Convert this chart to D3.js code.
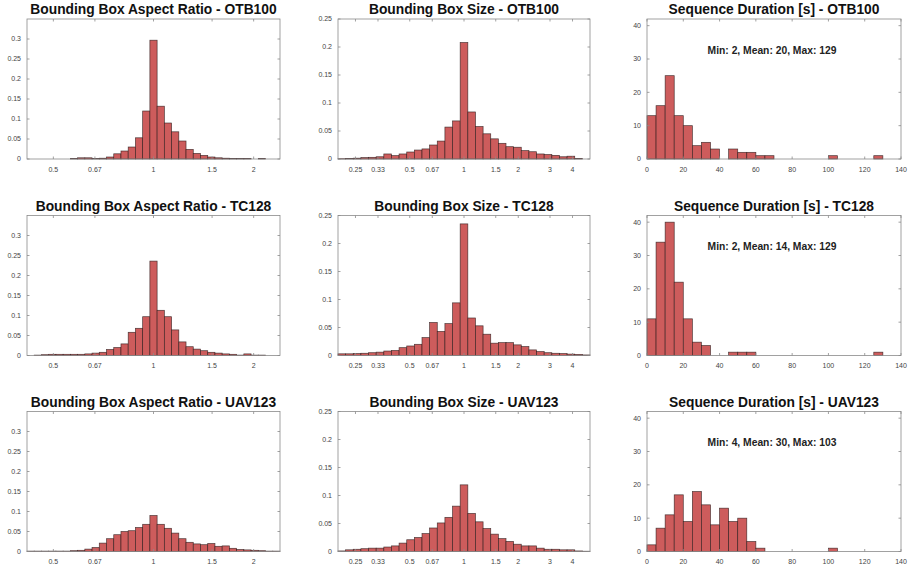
<!DOCTYPE html>
<html>
<head>
<meta charset="utf-8">
<script src="https://cdn.jsdelivr.net/npm/d3@7"></script>
<style>
  body { margin: 0; background: #fff; }
  svg { display: block; }
</style>
</head>
<body>
<div id="chart"></div>
<script>
// Datasets (one row of panels each)
var datasets = ['OTB100', 'TC128', 'UAV123']

// Bounding box aspect ratio, relative frequency, 35 log-spaced bins
var aspectOTB100 = [0, 0, 0, 0, 0, 0, 0.001, 0.003, 0.003, 0.001, 0.002, 0.005, 0.013, 0.02, 0.03, 0.053, 0.12,
  0.297, 0.132, 0.09, 0.068, 0.045, 0.024, 0.014, 0.009, 0.005, 0.003, 0.002, 0.001, 0.001, 0.001, 0, 0.001, 0, 0]
var aspectTC128 = [0, 0.001, 0.002, 0.003, 0.003, 0.003, 0.003, 0.003, 0.004, 0.006, 0.008, 0.015, 0.02, 0.029, 0.058, 0.068, 0.097,
  0.236, 0.113, 0.097, 0.064, 0.034, 0.022, 0.016, 0.012, 0.008, 0.006, 0.004, 0.003, 0.001, 0.004, 0.001, 0.001, 0, 0]
var aspectUAV123 = [0.001, 0.001, 0.001, 0.001, 0.001, 0.001, 0.002, 0.003, 0.006, 0.01, 0.021, 0.032, 0.042, 0.05, 0.052, 0.06, 0.068,
  0.09, 0.068, 0.058, 0.046, 0.032, 0.023, 0.019, 0.017, 0.02, 0.013, 0.014, 0.008, 0.005, 0.004, 0.003, 0.002, 0.001, 0.001]

// Bounding box size, relative frequency, 33 log-spaced bins
var sizeOTB100 = [0.0005, 0.001, 0.0015, 0.0025, 0.003, 0.004, 0.009, 0.006, 0.009, 0.0125, 0.016, 0.018, 0.025, 0.032, 0.057, 0.068,
  0.208, 0.084, 0.058, 0.045, 0.036, 0.028, 0.022, 0.021, 0.015, 0.013, 0.009, 0.008, 0.0065, 0.004, 0.005, 0.001, 0]
var sizeTC128 = [0.003, 0.003, 0.0035, 0.004, 0.005, 0.006, 0.008, 0.009, 0.014, 0.017, 0.02, 0.032, 0.059, 0.043, 0.057, 0.094,
  0.235, 0.067, 0.053, 0.038, 0.022, 0.023, 0.023, 0.019, 0.016, 0.01, 0.007, 0.005, 0.004, 0.0035, 0.0025, 0.002, 0.001]
var sizeUAV123 = [0.001, 0.003, 0.004, 0.005, 0.006, 0.006, 0.008, 0.01, 0.015, 0.021, 0.025, 0.032, 0.042, 0.051, 0.061, 0.081,
  0.119, 0.068, 0.053, 0.041, 0.031, 0.023, 0.018, 0.013, 0.01, 0.01, 0.006, 0.004, 0.004, 0.003, 0.003, 0.001, 0.0005]

// Sequence duration, counts in 5 s bins starting at 0
var durationOTB100 = [13, 16, 25, 13, 10, 4, 5, 3, 0, 3, 2, 2, 1, 1, 0, 0, 0, 0, 0, 0, 1, 0, 0, 0, 0, 1]
var durationTC128 = [11, 34, 40, 22, 11, 4, 3, 0, 0, 1, 1, 1, 0, 0, 0, 0, 0, 0, 0, 0, 0, 0, 0, 0, 0, 1]
var durationUAV123 = [2, 7, 11, 17, 9, 18, 14, 8, 13, 9, 10, 3, 1, 0, 0, 0, 0, 0, 0, 0, 1]
var durationStats = ['Min: 2, Mean: 20, Max: 129', 'Min: 2, Mean: 14, Max: 129', 'Min: 4, Mean: 30, Max: 103']

// Axis ranges and ticks
var aspectDomain = [1 / 2.4, 2.4]
var aspectTicks = [0.5, 2 / 3, 1, 1.5, 2]
var aspectTickLabels = ['0.5', '0.67', '1', '1.5', '2']
var aspectYTicks = [0, 0.05, 0.1, 0.15, 0.2, 0.25, 0.3]

var sizeDomain = [0.2, 5]
var sizeTicks = [0.25, 1 / 3, 0.5, 2 / 3, 1, 1.5, 2, 3, 4]
var sizeTickLabels = ['0.25', '0.33', '0.5', '0.67', '1', '1.5', '2', '3', '4']
var sizeYTicks = [0, 0.05, 0.1, 0.15, 0.2, 0.25]

var durationDomain = [0, 140]
var durationBinWidth = 5
var durationTicks = [0, 20, 40, 60, 80, 100, 120, 140]
var durationYTicks = [0, 10, 20, 30, 40]

var aspectData = [aspectOTB100, aspectTC128, aspectUAV123]
var sizeData = [sizeOTB100, sizeTC128, sizeUAV123]
var durationData = [durationOTB100, durationTC128, durationUAV123]

// Dimensions
var width = 914
var height = 570
var colLeft = [27, 338, 647]
var colWidth = [253, 252, 254]
var rowTop = [19, 215.5, 411.5]
var plotH = 140
var tickLen = 2.5

var axisColor = '#8a8a8a'
var labelColor = '#444'
var barFill = '#cd5c5c'
var barStroke = '#2a1a1a'

var svg = d3.select('#chart').append('svg')
  .attr('width', width)
  .attr('height', height)
  .style('font-family', 'Arial, "Liberation Sans", sans-serif')

// log-spaced bins covering the whole domain
function logBins(values, domain) {
  var lo = Math.log(domain[0])
  var hi = Math.log(domain[1])
  var n = values.length
  return values.map(function (v, i) {
    return { x0: Math.exp(lo + (hi - lo) * i / n), x1: Math.exp(lo + (hi - lo) * (i + 1) / n), v: v }
  })
}

function linBins(values, step) {
  return values.map(function (v, i) {
    return { x0: i * step, x1: (i + 1) * step, v: v }
  })
}

function panel(col, row, o) {
  var left = colLeft[col]
  var top = rowTop[row]
  var w = colWidth[col]

  var x = o.x.range([0, w])
  var y = d3.scaleLinear().domain(o.yDomain).range([plotH, 0])

  var g = svg.append('g')
    .attr('transform', 'translate(' + left + ',' + top + ')')

  // bars
  g.append('g').selectAll('rect')
    .data(o.bins.filter(function (d) { return d.v > 0 }))
    .enter().append('rect')
    .attr('x', function (d) { return x(d.x0) })
    .attr('width', function (d) { return x(d.x1) - x(d.x0) })
    .attr('y', function (d) { return y(d.v) })
    .attr('height', function (d) { return plotH - y(d.v) })
    .attr('fill', barFill)
    .attr('stroke', barStroke)
    .attr('stroke-opacity', 0.8)
    .attr('stroke-width', 0.7)

  // box
  g.append('rect')
    .attr('width', w)
    .attr('height', plotH)
    .attr('fill', 'none')
    .attr('stroke', axisColor)
    .attr('stroke-width', 0.8)

  // inward ticks, mirrored on the top and right edges
  o.xTicks.forEach(function (t) {
    var tx = x(t)
    g.append('line').attr('x1', tx).attr('x2', tx).attr('y1', plotH).attr('y2', plotH - tickLen)
      .attr('stroke', axisColor).attr('stroke-width', 0.8)
    g.append('line').attr('x1', tx).attr('x2', tx).attr('y1', 0).attr('y2', tickLen)
      .attr('stroke', axisColor).attr('stroke-width', 0.8)
  })
  o.yTicks.forEach(function (t) {
    var ty = y(t)
    g.append('line').attr('x1', 0).attr('x2', tickLen).attr('y1', ty).attr('y2', ty)
      .attr('stroke', axisColor).attr('stroke-width', 0.8)
    g.append('line').attr('x1', w).attr('x2', w - tickLen).attr('y1', ty).attr('y2', ty)
      .attr('stroke', axisColor).attr('stroke-width', 0.8)
  })

  // tick labels
  g.append('g').selectAll('text')
    .data(o.xTicks)
    .enter().append('text')
    .attr('x', function (d) { return x(d) })
    .attr('y', plotH + 12.5)
    .attr('text-anchor', 'middle')
    .attr('font-size', '7px')
    .attr('fill', labelColor)
    .text(function (d, i) { return o.xLabels[i] })

  g.append('g').selectAll('text')
    .data(o.yTicks)
    .enter().append('text')
    .attr('x', -6)
    .attr('y', function (d) { return y(d) })
    .attr('dy', '0.35em')
    .attr('text-anchor', 'end')
    .attr('font-size', '7px')
    .attr('fill', labelColor)
    .text(function (d) { return String(+d.toFixed(2)) })

  // title
  g.append('text')
    .attr('x', w / 2)
    .attr('y', -5)
    .attr('text-anchor', 'middle')
    .attr('font-size', '13.8px')
    .attr('font-weight', 'bold')
    .attr('fill', '#111')
    .text(o.title)

  if (o.note) {
    g.append('text')
      .attr('x', w / 2 - 2)
      .attr('y', 34.5)
      .attr('text-anchor', 'middle')
      .attr('font-size', '10.3px')
      .attr('font-weight', 'bold')
      .attr('fill', '#222')
      .text(o.note)
  }
}

datasets.forEach(function (name, row) {
  panel(0, row, {
    x: d3.scaleLog().domain(aspectDomain),
    yDomain: [0, 0.35],
    bins: logBins(aspectData[row], aspectDomain),
    xTicks: aspectTicks,
    xLabels: aspectTickLabels,
    yTicks: aspectYTicks,
    title: 'Bounding Box Aspect Ratio - ' + name
  })

  panel(1, row, {
    x: d3.scaleLog().domain(sizeDomain),
    yDomain: [0, 0.25],
    bins: logBins(sizeData[row], sizeDomain),
    xTicks: sizeTicks,
    xLabels: sizeTickLabels,
    yTicks: sizeYTicks,
    title: 'Bounding Box Size - ' + name
  })

  panel(2, row, {
    x: d3.scaleLinear().domain(durationDomain),
    yDomain: [0, 42],
    bins: linBins(durationData[row], durationBinWidth),
    xTicks: durationTicks,
    xLabels: durationTicks.map(String),
    yTicks: durationYTicks,
    title: 'Sequence Duration [s] - ' + name,
    note: durationStats[row]
  })
})
</script>
</body>
</html>
